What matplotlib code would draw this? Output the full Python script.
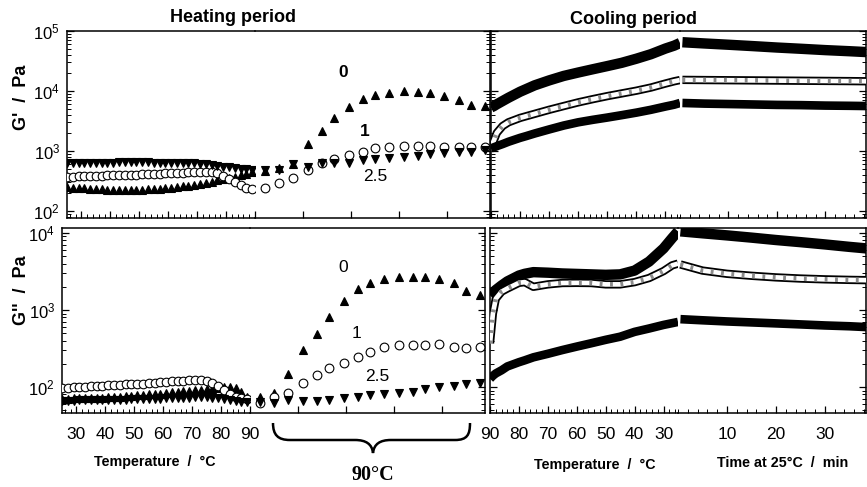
import matplotlib
matplotlib.use("Agg")
import matplotlib.pyplot as plt
from matplotlib.path import Path
from matplotlib.patches import PathPatch
from matplotlib.ticker import MultipleLocator, FixedLocator, LogLocator, NullFormatter

plt.rcParams['font.family'] = ['Liberation Sans', 'DejaVu Sans']

# --- heating ramp 25 -> 90 C ---
HEAT_T = [25, 27, 29, 31, 33, 35, 37, 39, 41, 43, 45, 47, 49, 51, 53, 55, 57,
          59, 61, 63, 65, 67, 69, 71, 73, 75, 77, 79, 81, 83, 85, 87, 89]
HEAT_GP_0 = [250, 245, 240, 236, 232, 230, 228, 226, 225, 224, 224, 224, 225, 226, 228, 230, 233,
             237, 242, 248, 255, 263, 272, 283, 295, 308, 322, 337, 353, 370, 390, 415, 445]
HEAT_GP_1 = [370, 372, 375, 377, 380, 383, 386, 389, 392, 395, 398, 401, 404, 407, 410, 414, 418,
             422, 426, 430, 434, 438, 441, 443, 442, 438, 425, 385, 335, 298, 265, 242, 232]
HEAT_GP_25 = [620, 625, 630, 632, 635, 637, 638, 640, 640, 641, 641, 642, 642, 642, 641, 640, 640,
              639, 638, 636, 633, 628, 620, 608, 594, 578, 562, 546, 530, 515, 500, 490, 480]
HEAT_GPP_0 = [70, 70, 71, 71, 72, 72, 73, 73, 74, 75, 75, 76, 77, 78, 79, 80, 81,
              82, 84, 85, 87, 88, 90, 91, 92, 93, 94, 96, 99, 101, 98, 85, 74]
HEAT_GPP_1 = [98, 98, 99, 100, 101, 102, 103, 104, 105, 106, 107, 108, 109, 110, 111, 113, 114,
              115, 117, 118, 120, 121, 122, 123, 122, 120, 112, 102, 92, 82, 75, 72, 69]
HEAT_GPP_25 = [66, 66, 66, 67, 67, 67, 67, 68, 68, 68, 68, 68, 69, 69, 69, 70, 70,
               70, 71, 71, 72, 72, 73, 74, 74, 74, 73, 71, 69, 67, 65, 64, 63]

# --- isothermal hold at 90 C (min) ---
HOLD_T = [2, 5, 8, 11, 14, 16.5, 19.5, 22.5, 25, 28, 31, 34, 36.5, 39.5, 42.5, 45, 48]
HOLD_GP_0 = [470, 520, 600, 1300, 2150, 3550, 5400, 7350, 8600, 9300, 10000, 9600, 9300, 8250, 7100, 5850, 5600]
HOLD_GP_1 = [242, 293, 355, 482, 631, 736, 858, 962, 1120, 1170, 1210, 1210, 1210, 1170, 1170, 1170, 1170]
HOLD_GP_25 = [482, 482, 607, 541, 631, 631, 631, 708, 736, 764, 794, 826, 891, 926, 962, 962, 1040]
HOLD_GPP_0 = [74, 84, 148, 303, 488, 811, 1310, 1875, 2245, 2530, 2685, 2685, 2685, 2530, 2245, 1766, 1567]
HOLD_GPP_1 = [62, 74, 84, 113, 143, 177, 205, 245, 285, 330, 351, 351, 351, 361, 330, 321, 330]
HOLD_GPP_25 = [64, 62, 68, 66, 66, 68, 72, 74, 79, 81, 84, 86, 94, 100, 103, 109, 113]

# --- cooling ramp 90 -> 25 C ---
COOL_T = [90, 89, 88, 86, 84, 80, 78, 75, 70, 65, 60, 55, 50, 45, 40, 35, 30, 27, 25]
COOL_GP_0 = [5300, 5600, 6000, 6800, 7700, 9700, 10700, 12400, 15000, 17800, 20300, 23000,
             26000, 29500, 34500, 41000, 51000, 57000, 63000]
COOL_GP_1 = [1150, 1500, 2000, 2600, 3000, 3550, 3780, 4150, 4850, 5600, 6450, 7300,
             8200, 9100, 10100, 11400, 13300, 14500, 15200]
COOL_GP_25 = [1100, 1150, 1200, 1300, 1420, 1650, 1760, 1950, 2280, 2650, 3000, 3300,
              3600, 3950, 4350, 4850, 5500, 5900, 6300]
COOL_GPP_0 = [1550, 1680, 1820, 2080, 2350, 2800, 2950, 3100, 3050, 2980, 2940, 2900,
              2860, 2900, 3250, 4250, 6300, 8600, 10500]
COOL_GPP_1 = [370, 900, 1400, 1730, 1900, 2250, 2300, 2000, 2150, 2240, 2250, 2240,
              2150, 2150, 2300, 2600, 3200, 3800, 4000]
COOL_GPP_25 = [128, 140, 150, 165, 185, 210, 222, 243, 270, 302, 335, 370,
               410, 450, 520, 575, 640, 675, 700]

# --- time at 25 C (min) ---
TIME_T = [0.5, 5, 10, 15, 20, 25, 30, 35, 38.5]
TIME_GP_0 = [65000, 62000, 59000, 56000, 53000, 50500, 48000, 46000, 44500]
TIME_GP_1 = [15300, 15200, 15100, 15000, 14900, 14800, 14700, 14600, 14500]
TIME_GP_25 = [6300, 6150, 6050, 5950, 5850, 5800, 5700, 5650, 5600]
TIME_GPP_0 = [10500, 9900, 9300, 8700, 8100, 7600, 7100, 6600, 6300]
TIME_GPP_1 = [3900, 3250, 2950, 2780, 2650, 2560, 2500, 2460, 2440]
TIME_GPP_25 = [760, 735, 710, 690, 670, 650, 630, 615, 600]

W, H = 867, 487


def box(x0, y0, x1, y1):
    return [x0 / W, 1 - y1 / H, (x1 - x0) / W, (y1 - y0) / H]


def log_axis(ax, ylim):
    ax.set_yscale("log")
    ax.set_ylim(*ylim)
    ax.yaxis.set_major_locator(LogLocator(base=10, numticks=10))
    ax.yaxis.set_minor_locator(LogLocator(base=10, subs=range(2, 10), numticks=10))
    ax.yaxis.set_minor_formatter(NullFormatter())
    ax.tick_params(which="both", direction="in", labelsize=12, pad=5)
    ax.tick_params(which="major", length=5, width=0.9)
    ax.tick_params(which="minor", length=3, width=0.7)
    for s in ax.spines.values():
        s.set_linewidth(1.1)


def markers(ax, x, y, kind, ms):
    m = {"0": ("^", "black"), "1": ("o", "white"), "2.5": ("v", "black")}[kind]
    ax.plot(x, y, ls="none", marker=m[0], ms=ms, mfc=m[1], mec="black", mew=0.8, zorder=3)


def band(ax, x, y, kind):
    if kind == "1":
        ax.plot(x, y, color="black", lw=6.0, solid_capstyle="butt", solid_joinstyle="round", zorder=3)
        ax.plot(x, y, color="white", lw=3.4, solid_capstyle="butt", solid_joinstyle="round", zorder=3)
        ax.plot(x, y, color="0.55", lw=3.4, ls=(0, (0.6, 1.6)), zorder=3)
    else:
        lw = 7.5 if kind == "0" else 6.2
        ax.plot(x, y, color="black", lw=lw, solid_capstyle="butt", solid_joinstyle="round", zorder=3)


fig = plt.figure(figsize=(W / 100, H / 100), dpi=100)

rows = [
    dict(y0=31, y1=218, xs=(67, 255, 490, 491, 680, 866), ylim=(76, 1e5), labels=False,
         heat=(HEAT_GP_0, HEAT_GP_1, HEAT_GP_25), hold=(HOLD_GP_0, HOLD_GP_1, HOLD_GP_25),
         cool=(COOL_GP_0, COOL_GP_1, COOL_GP_25), time=(TIME_GP_0, TIME_GP_1, TIME_GP_25),
         tags=[("0", 18.3, 20700, "bold"), ("1", 22.9, 2070, "bold"), ("2.5", 25.0, 369, "normal")]),
    dict(y0=228, y1=413, xs=(62, 250, 485, 490, 678, 866), ylim=(46, 11600), labels=True,
         heat=(HEAT_GPP_0, HEAT_GPP_1, HEAT_GPP_25), hold=(HOLD_GPP_0, HOLD_GPP_1, HOLD_GPP_25),
         cool=(COOL_GPP_0, COOL_GPP_1, COOL_GPP_25), time=(TIME_GPP_0, TIME_GPP_1, TIME_GPP_25),
         tags=[("0", 19.4, 3510, "normal"), ("1", 22.3, 502, "normal"), ("2.5", 26.5, 135, "normal")]),
]
kinds = ["0", "1", "2.5"]

for r in rows:
    xa, xb, xc, xd, xe, xf = r["xs"]
    ax_h = fig.add_axes(box(xa, r["y0"], xb, r["y1"]))
    ax_i = fig.add_axes(box(xb, r["y0"], xc, r["y1"]))
    ax_c = fig.add_axes(box(xd, r["y0"], xe, r["y1"]))
    ax_t = fig.add_axes(box(xe, r["y0"], xf, r["y1"]))
    for ax in (ax_h, ax_i, ax_c, ax_t):
        log_axis(ax, r["ylim"])
        ax.patch.set_alpha(0)

    # heating
    for k, vals in zip(kinds, r["heat"]):
        markers(ax_h, HEAT_T, vals, k, 6.2)
    ax_h.set_xlim(25, 90)
    ax_h.xaxis.set_major_locator(FixedLocator([30, 40, 50, 60, 70, 80, 90]))
    ax_h.xaxis.set_minor_locator(MultipleLocator(2))
    ax_h.spines["right"].set_visible(False)
    ax_h.tick_params(axis="x", labelbottom=r["labels"], labelsize=12.5, pad=10)

    # hold at 90 C
    for k, vals in zip(kinds, r["hold"]):
        markers(ax_i, HOLD_T, vals, k, 6.3)
    ax_i.set_xlim(0, 49)
    ax_i.xaxis.set_major_locator(FixedLocator([10, 20, 30, 40]))
    ax_i.xaxis.set_minor_locator(FixedLocator([]))
    ax_i.spines["left"].set_visible(False)
    ax_i.yaxis.tick_right()
    ax_i.tick_params(axis="y", labelright=False)
    ax_i.tick_params(axis="x", labelbottom=False)
    for txt, tx, ty, wt in r["tags"]:
        ax_i.text(tx, ty, txt, fontsize=12.5, fontweight=wt, ha="center", va="center")

    # cooling
    for k, vals in zip(kinds, r["cool"]):
        band(ax_c, COOL_T, vals, k)
    ax_c.set_xlim(90, 25)
    ax_c.xaxis.set_major_locator(FixedLocator([90, 80, 70, 60, 50, 40, 30]))
    ax_c.xaxis.set_minor_locator(MultipleLocator(2))
    ax_c.spines["right"].set_visible(False)
    ax_c.tick_params(axis="y", labelleft=False)
    ax_c.tick_params(axis="x", labelbottom=r["labels"], labelsize=12.5, pad=10)

    # time at 25 C
    for k, vals in zip(kinds, r["time"]):
        band(ax_t, TIME_T, vals, k)
    ax_t.set_xlim(0, 38.4)
    ax_t.xaxis.set_major_locator(FixedLocator([10, 20, 30]))
    ax_t.xaxis.set_minor_locator(MultipleLocator(2))
    ax_t.spines["left"].set_visible(False)
    ax_t.yaxis.tick_right()
    ax_t.tick_params(axis="y", labelright=False)
    ax_t.tick_params(axis="x", labelbottom=r["labels"], labelsize=12.5, pad=10)


def fx(x, y):
    return (x / W, 1 - y / H)


fig.text(*fx(233, 18), "Heating period", ha="center", va="center", fontsize=13, fontweight="bold")
fig.text(*fx(633, 20), "Cooling period", ha="center", va="center", fontsize=13, fontweight="bold")
fig.text(*fx(21, 97), "G'  /  Pa", rotation=90, ha="center", va="center", fontsize=13, fontweight="bold")
fig.text(*fx(21, 290), "G''  /  Pa", rotation=90, ha="center", va="center", fontsize=13, fontweight="bold")
fig.text(*fx(155, 462), "Temperature  /  °C", ha="center", va="center", fontsize=10.3, fontweight="bold")
fig.text(*fx(595, 465), "Temperature  /  °C", ha="center", va="center", fontsize=10.3, fontweight="bold")
fig.text(*fx(783, 463), "Time at 25°C  /  min", ha="center", va="center", fontsize=10.3, fontweight="bold")
fig.text(*fx(373, 475), "90°C", ha="center", va="center", fontsize=14.5, fontweight="bold",
         family=["Liberation Serif", "DejaVu Serif"])

# curly brace under the isothermal section
pts = [(273, 423), (273, 435), (278, 440), (290, 440), (355, 440), (366, 440), (372, 444), (373, 453),
       (374, 444), (380, 440), (391, 440), (455, 440), (467, 440), (470, 435), (470, 423)]
codes = [Path.MOVETO, Path.CURVE4, Path.CURVE4, Path.CURVE4, Path.LINETO, Path.CURVE4, Path.CURVE4,
         Path.CURVE4, Path.CURVE4, Path.CURVE4, Path.CURVE4, Path.LINETO, Path.CURVE4, Path.CURVE4,
         Path.CURVE4]
brace = Path([fx(x, y) for x, y in pts], codes)
fig.add_artist(PathPatch(brace, transform=fig.transFigure, fill=False, lw=1.8, edgecolor="black"))

fig.savefig("out.png", dpi=100)
